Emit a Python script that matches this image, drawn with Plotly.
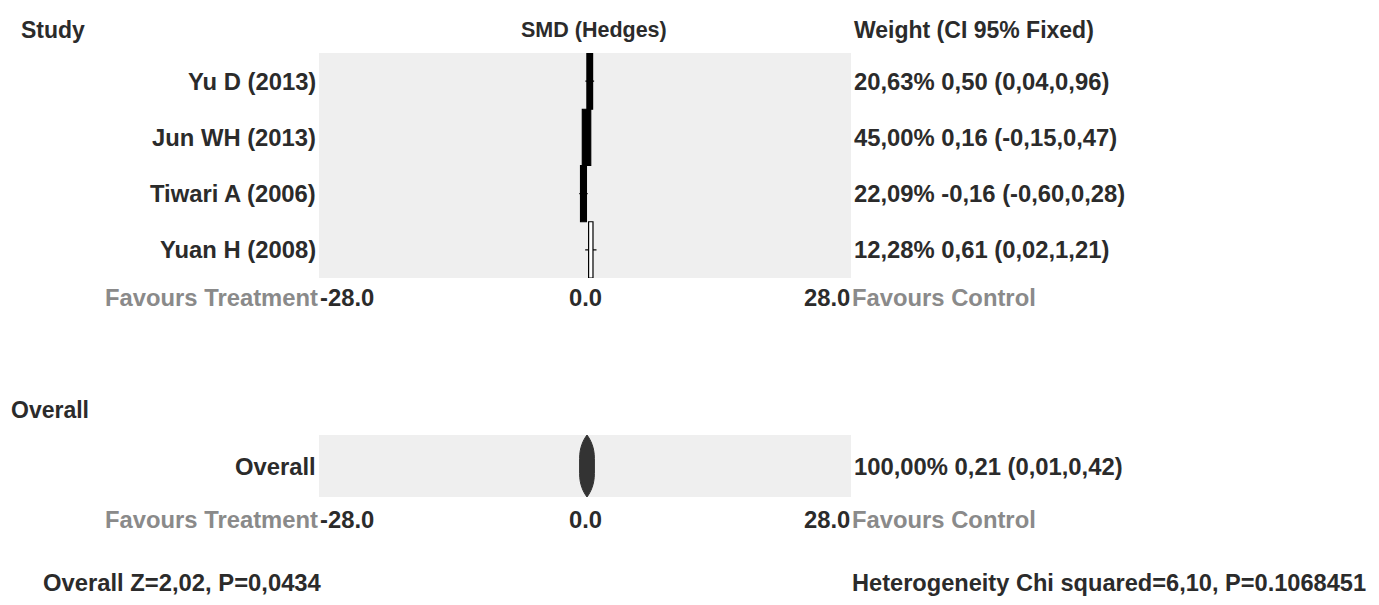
import plotly.graph_objects as go

# ---- data ----
studies = ["Yu D (2013)", "Jun WH (2013)", "Tiwari A (2006)", "Yuan H (2008)"]
smd = [0.50, 0.16, -0.16, 0.61]
ci_low = [0.04, -0.15, -0.60, 0.02]
ci_high = [0.96, 0.47, 0.28, 1.21]
weights = [20.63, 45.00, 22.09, 12.28]

overall_label = "Overall"
overall_smd = 0.21
overall_low = 0.01
overall_high = 0.42
overall_weight = 100.00

axis_limit = 28.0
z_text = "Overall Z=2,02, P=0,0434"
het_text = "Heterogeneity Chi squared=6,10, P=0.1068451"

# ---- styles ----
OFF = 8                     # page body margin
W, H = 1379 - 2 * OFF, 605 - 2 * OFF
FONT = "Liberation Sans, Arial, sans-serif"
FS = 23.8
HFS = 23
DARK = "#2b2b2b"
GREY = "#8a8a8a"
BG = "#efefef"
box_scale = 0.066       # half-width per sqrt(weight), axis units
diamond_hw = 0.78       # half-width of overall marker, axis units
hollow_below = 15       # weights under this drawn as outline boxes


def py(p):
    return 1 - (p - OFF) / H  # screen pixel y -> paper


def px(p):
    return (p - OFF) / W


def fmt(v):
    return f"{v:.2f}".replace(".", ",")


x_dom = [px(319), px(851)]
top_dom = [py(278), py(53)]
bot_dom = [py(497), py(435)]

fig = go.Figure()

n = len(studies)
# CI lines
for i in range(n):
    fig.add_trace(go.Scatter(x=[ci_low[i], ci_high[i]], y=[i, i], mode="lines",
                             line=dict(color="black", width=1.2),
                             xaxis="x", yaxis="y", showlegend=False, hoverinfo="skip"))

shapes = []
for i in range(n):
    hw = box_scale * weights[i] ** 0.5
    hollow = weights[i] < hollow_below
    shapes.append(dict(type="rect", xref="x", yref="y",
                       x0=smd[i] - hw, x1=smd[i] + hw, y0=i - 0.5, y1=i + 0.5,
                       fillcolor="white" if hollow else "black",
                       line=dict(color="black", width=1.2), layer="above"))

# overall marker
c = overall_smd
h = diamond_hw
path = (f"M {c},0.5 C {c+0.5*h},0.42 {c+h},0.3 {c+h},0.12 L {c+h},-0.12 "
        f"C {c+h},-0.3 {c+0.5*h},-0.42 {c},-0.5 C {c-0.5*h},-0.42 {c-h},-0.3 {c-h},-0.12 "
        f"L {c-h},0.12 C {c-h},0.3 {c-0.5*h},0.42 {c},0.5 Z")
shapes.append(dict(type="path", xref="x2", yref="y2", path=path,
                   fillcolor="#333333", line=dict(color="#333333", width=1)))
fig.add_trace(go.Scatter(x=[overall_low, overall_high], y=[0, 0], mode="lines",
                         line=dict(color="#333333", width=1), xaxis="x2", yaxis="y2",
                         showlegend=False, hoverinfo="skip"))

ann = []


def text(x, y, s, xanchor="left", color=DARK, xref="paper", yref="paper", size=FS,
         bold=True, yanchor="middle"):
    ann.append(dict(x=x, y=y, xref=xref, yref=yref, text=f"<b>{s}</b>" if bold else s,
                    showarrow=False, xanchor=xanchor, yanchor=yanchor, borderpad=0,
                    font=dict(family=FONT, size=size, color=color)))


# headers
text(px(20), py(30), "Study", size=HFS)
text(px(594), py(30), "SMD (Hedges)", xanchor="center", size=21.5)
text(px(853), py(30), "Weight (CI 95% Fixed)", size=HFS)

for i in range(n):
    text(px(317), i, studies[i], xanchor="right", yref="y")
    s = f"{fmt(weights[i])}% {fmt(smd[i])} ({fmt(ci_low[i])},{fmt(ci_high[i])})"
    text(px(853), i, s, yref="y")

# axis captions (both panels)
for xa, ypix in (("x", 297), ("x2", 519)):
    text(-axis_limit, py(ypix), f"{-axis_limit:.1f}", xanchor="left", xref=xa)
    text(0, py(ypix), f"{0:.1f}", xanchor="center", xref=xa)
    text(axis_limit, py(ypix), f"{axis_limit:.1f}", xanchor="right", xref=xa)
    text(px(319), py(ypix), "Favours Treatment", xanchor="right", color=GREY)
    text(px(851), py(ypix), "Favours Control", xanchor="left", color=GREY)

text(px(10), py(410), "Overall", size=HFS)
text(px(317), 0, overall_label, xanchor="right", yref="y2")
text(px(853), 0, f"{fmt(overall_weight)}% {fmt(overall_smd)} ({fmt(overall_low)},{fmt(overall_high)})",
     yref="y2")

text(px(42), 0, z_text, yanchor="bottom")
text(px(851), 0, het_text, yanchor="bottom", size=23.6)

ax_common = dict(showgrid=False, zeroline=False, showticklabels=False, ticks="",
                 showline=False, fixedrange=True)
fig.update_layout(
    width=W, height=H, margin=dict(l=0, r=0, t=0, b=0),
    paper_bgcolor="white", plot_bgcolor=BG,
    xaxis=dict(domain=x_dom, range=[-axis_limit, axis_limit], anchor="y", **ax_common),
    yaxis=dict(domain=top_dom, range=[n - 0.5, -0.5], anchor="x", **ax_common),
    xaxis2=dict(domain=x_dom, range=[-axis_limit, axis_limit], anchor="y2", **ax_common),
    yaxis2=dict(domain=bot_dom, range=[0.5, -0.5], anchor="x2", **ax_common),
    shapes=shapes, annotations=ann, showlegend=False,
)

fig.write_html("out.html")
